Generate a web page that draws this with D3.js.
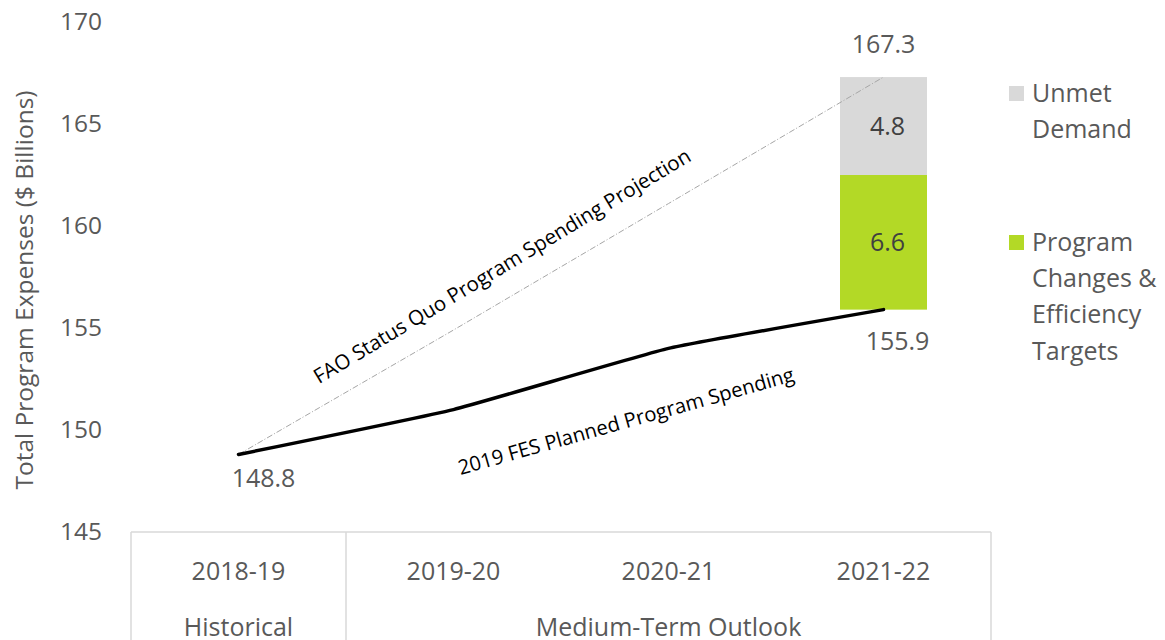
<!DOCTYPE html>
<html><head><meta charset="utf-8">
<script src="https://cdn.jsdelivr.net/npm/d3@7"></script>
<style>
body{margin:0;background:#fff;}
text{font-family:"Open Sans","Noto Sans",sans-serif;}
</style></head>
<body><svg id="c" width="1165" height="640"></svg>
<script>
const categories = ["2018-19","2019-20","2020-21","2021-22"];
const groups = [{name:"Historical", from:0, to:0},{name:"Medium-Term Outlook", from:1, to:3}];
const planned = [148.8, 151.0, 154.0, 155.9];
const projection = [148.8, 154.9, 161.1, 167.3];
const programChanges = [0, 0, 0, 6.6];
const unmetDemand = [0, 0, 0, 4.8];
const yTicks = [145,150,155,160,165,170];
const legendItems = [
  {label:["Unmet","Demand"], color:"#d9d9d9"},
  {label:["Program","Changes &","Efficiency","Targets"], color:"#b3d926"}
];

const svg = d3.select("#c");
const L = 131, R = 991, T = 22, B = 532;
const x = d3.scaleBand().domain(categories).range([L,R]).paddingInner(0).paddingOuter(0);
const y = d3.scaleLinear().domain([145,170]).range([B,T]);
const cx = c => x(c) + x.bandwidth()/2;
const txt = "#595959";

// y axis
const ya = svg.append("g").attr("transform",`translate(${L},0)`)
  .call(d3.axisLeft(y).tickValues(yTicks).tickSize(0).tickPadding(29).tickFormat(d3.format("d")));
ya.select(".domain").remove();
ya.selectAll("text").attr("font-size",24.5).attr("fill",txt).style("font-family",'"Open Sans","Noto Sans",sans-serif');

svg.append("text").attr("transform",`translate(33,290) rotate(-90)`)
  .attr("text-anchor","middle").attr("font-size",24.5).attr("fill",txt)
  .text("Total Program Expenses ($ Billions)");

// category table
const g = svg.append("g").attr("stroke","#d9d9d9").attr("stroke-width",1.5);
g.append("line").attr("x1",L).attr("x2",R).attr("y1",B).attr("y2",B);
[L, x(categories[1]), R].forEach(v=>g.append("line").attr("x1",v).attr("x2",v).attr("y1",B).attr("y2",640));
categories.forEach(c=>svg.append("text").attr("x",cx(c)).attr("y",571).attr("dy","0.35em")
  .attr("text-anchor","middle").attr("font-size",25).attr("fill",txt).text(c));
groups.forEach(gr=>{
  const x0 = x(categories[gr.from]), x1 = x(categories[gr.to]) + x.bandwidth();
  svg.append("text").attr("x",(x0+x1)/2).attr("y",627).attr("dy","0.35em")
    .attr("text-anchor","middle").attr("font-size",25).attr("fill",txt).text(gr.name);
});

// stacked bars
const bw = 87;
categories.forEach((c,i)=>{
  if(programChanges[i]>0){
    const base = planned[i];
    svg.append("rect").attr("x",cx(c)-bw/2).attr("width",bw)
      .attr("y",y(base+programChanges[i])).attr("height",y(base)-y(base+programChanges[i]))
      .attr("fill",legendItems[1].color);
    svg.append("rect").attr("x",cx(c)-bw/2).attr("width",bw)
      .attr("y",y(base+programChanges[i]+unmetDemand[i])).attr("height",y(base+programChanges[i])-y(base+programChanges[i]+unmetDemand[i]))
      .attr("fill",legendItems[0].color);
    svg.append("text").attr("x",cx(c)+4).attr("y",y(base+programChanges[i]/2)).attr("dy","0.35em")
      .attr("text-anchor","middle").attr("font-size",25).attr("fill","#404040").text(programChanges[i].toFixed(1));
    svg.append("text").attr("x",cx(c)+4).attr("y",y(base+programChanges[i]+unmetDemand[i]/2)).attr("dy","0.35em")
      .attr("text-anchor","middle").attr("font-size",25).attr("fill","#404040").text(unmetDemand[i].toFixed(1));
  }
});

// projection line
const line = d3.line().x((d,i)=>cx(categories[i])).y(d=>y(d));
svg.append("path").datum(projection).attr("d",line).attr("fill","none")
  .attr("stroke","#a6a6a6").attr("stroke-width",1).attr("stroke-dasharray","6 2 1 2");
// planned line
svg.append("path").datum(planned).attr("d",line.curve(d3.curveCardinal.tension(0.65))).attr("fill","none")
  .attr("stroke","#000").attr("stroke-width",3.5).attr("stroke-linecap","round");

// data labels
svg.append("text").attr("x",cx(categories[0])+25).attr("y",y(planned[0])+24).attr("dy","0.35em")
  .attr("text-anchor","middle").attr("font-size",25).attr("fill",txt).text(planned[0].toFixed(1));
svg.append("text").attr("x",cx(categories[3])+14).attr("y",y(planned[3])+32).attr("dy","0.35em")
  .attr("text-anchor","middle").attr("font-size",25).attr("fill",txt).text(planned[3].toFixed(1));
svg.append("text").attr("x",cx(categories[3])).attr("y",y(projection[3])-33).attr("dy","0.35em")
  .attr("text-anchor","middle").attr("font-size",25).attr("fill",txt).text(projection[3].toFixed(1));

// annotations
svg.append("text").attr("transform","translate(502,266) rotate(-31)")
  .attr("text-anchor","middle").attr("dy","0.35em").attr("font-size",20.5).attr("fill","#000")
  .text("FAO Status Quo Program Spending Projection");
svg.append("text").attr("transform","translate(626,421) rotate(-15.7)")
  .attr("text-anchor","middle").attr("dy","0.35em").attr("font-size",20.3).attr("fill","#000")
  .text("2019 FES Planned Program Spending");

// legend
const legY = [93, 242];
legendItems.forEach((it,k)=>{
  svg.append("rect").attr("x",1009).attr("y",legY[k]-7).attr("width",15).attr("height",15).attr("fill",it.color);
  it.label.forEach((l,j)=>svg.append("text").attr("x",1032).attr("y",legY[k]+j*36.3).attr("dy","0.35em")
    .attr("font-size",25).attr("fill",txt).text(l));
});
</script></body></html>
